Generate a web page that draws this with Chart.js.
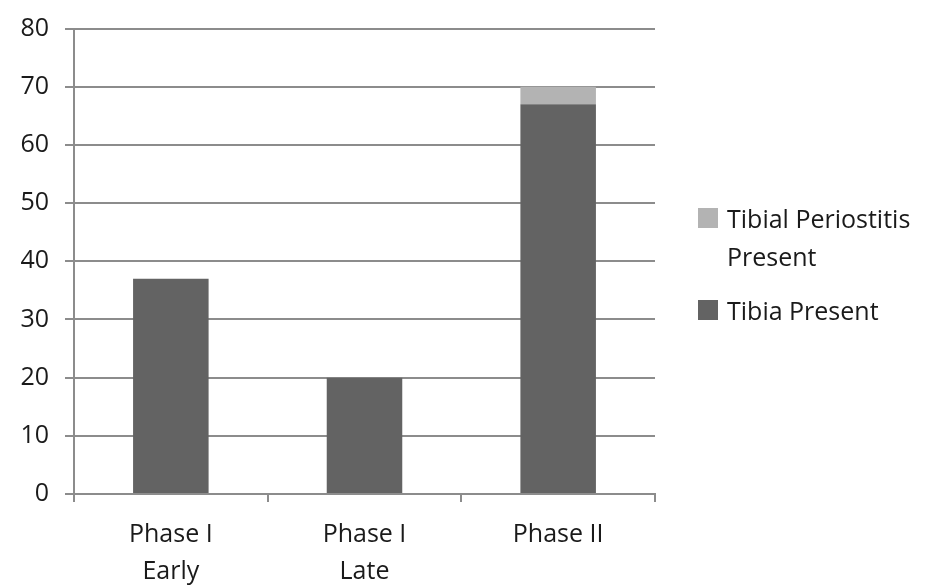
<!DOCTYPE html>
<html>
<head>
<meta charset="utf-8">
<script src="https://cdn.jsdelivr.net/npm/chart.js@4"></script>
<style>
  html, body { margin: 0; padding: 0; background: #fff; }
  #wrap { position: relative; width: 937px; height: 588px; }
  #legend { position: absolute; left: 698px; top: 199px; font-family: "Open Sans", sans-serif; font-size: 25px; color: #1a1a1a; }
  .item { position: relative; padding-left: 29px; line-height: 38px; }
  .item span.box { position: absolute; left: 0; top: 9px; width: 20px; height: 20px; }
</style>
</head>
<body>
<div id="wrap">
  <canvas id="chart" width="937" height="588"></canvas>
  <div id="legend">
    <div class="item"><span class="box" style="background:#b3b3b3"></span>Tibial Periostitis<br>Present</div>
    <div class="item" style="margin-top:16px"><span class="box" style="background:#636363"></span>Tibia Present</div>
  </div>
</div>
<script>
// stacked counts per phase
const phases = [['Phase I', 'Early'], ['Phase I', 'Late'], ['Phase II']];
const tibiaPresent = [37, 20, 67];
const periostitisPresent = [0, 0, 3];

const ctx = document.getElementById('chart').getContext('2d');

new Chart(ctx, {
    type: 'bar',
    data: {
        labels: phases,
        datasets: [
            {
                label: 'Tibia Present',
                data: tibiaPresent,
                backgroundColor: '#636363',
                categoryPercentage: 1,
                barPercentage: 0.39
            },
            {
                label: 'Tibial Periostitis Present',
                data: periostitisPresent,
                backgroundColor: '#b3b3b3',
                categoryPercentage: 1,
                barPercentage: 0.39
            }
        ]
    },
    options: {
        responsive: false,
        animation: false,
        layout: { padding: { top: 27, right: 282, left: 0, bottom: 0 } },
        scales: {
            x: {
                stacked: true,
                grid: { offset: true, drawOnChartArea: false, color: '#8c8c8c', lineWidth: 2, tickLength: 8 },
                border: { color: '#8c8c8c', width: 2 },
                ticks: { color: '#1a1a1a', font: { family: 'Open Sans', size: 25, lineHeight: 1.45 }, padding: 15 },
                afterFit: s => { s.height = 94; }
            },
            y: {
                stacked: true,
                min: 0,
                max: 80,
                ticks: { stepSize: 10, color: '#1a1a1a', font: { family: 'Open Sans', size: 25, lineHeight: 1 }, padding: 16 },
                grid: { color: '#8c8c8c', lineWidth: 2, tickLength: 9 },
                border: { color: '#8c8c8c', width: 2 },
                afterFit: s => { s.width = 74; }
            }
        },
        plugins: {
            legend: { display: false },
            tooltip: { enabled: false }
        }
    }
});
</script>
</body>
</html>
